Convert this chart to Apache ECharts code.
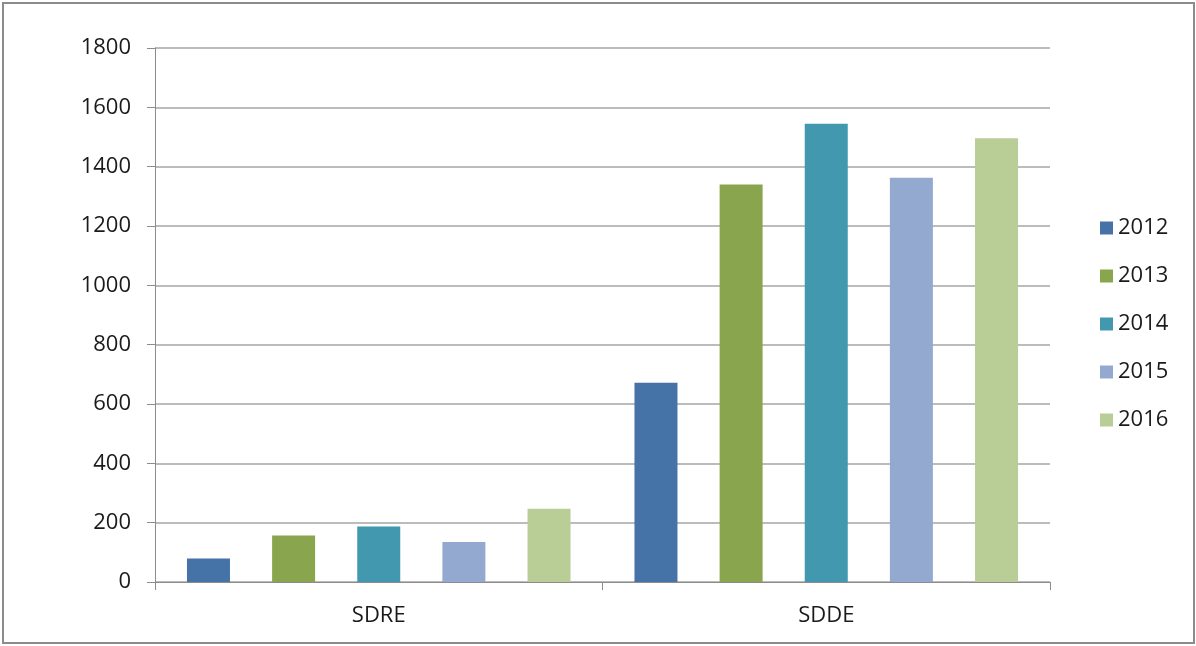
<!DOCTYPE html>
<html>
<head>
<meta charset="utf-8">
<script src="https://cdn.jsdelivr.net/npm/echarts@6/dist/echarts.min.js"></script>
<style>
  html, body { margin: 0; padding: 0; background: #ffffff; }
  #chart { width: 1196px; height: 646px; }
</style>
</head>
<body>
<div id="chart"></div>
<script>
// Categories and yearly values
const categories = ['SDRE', 'SDDE'];
const years = ['2012', '2013', '2014', '2015', '2016'];
const values2012 = [79, 672];
const values2013 = [157, 1340];
const values2014 = [187, 1545];
const values2015 = [135, 1363];
const values2016 = [247, 1496];
const yTicks = { min: 0, max: 1800, step: 200 };

const seriesValues = [values2012, values2013, values2014, values2015, values2016];
const palette = ['#4572A7', '#89A54E', '#4198AF', '#93A9CF', '#B9CD96'];

const FONT = 'Open Sans';
const TEXT = '#1a1a1a';

const chart = echarts.init(document.getElementById('chart'), null, { renderer: 'canvas' });

chart.setOption({
  animation: false,
  color: palette,
  textStyle: { fontFamily: FONT },
  graphic: [{
    type: 'rect',
    shape: { x: 3, y: 3, width: 1191, height: 640 },
    style: { fill: 'none', stroke: '#8c8c8c', lineWidth: 2 },
    silent: true
  }],
  grid: { left: 155, right: 146, top: 48, bottom: 64 },
  legend: {
    orient: 'vertical',
    left: 1095,
    top: 212,
    itemWidth: 13,
    itemHeight: 13,
    itemGap: 26,
    icon: 'rect',
    textStyle: { fontFamily: FONT, fontSize: 22, color: TEXT, lineHeight: 22, padding: [0, 0, 0, 0] },
    data: years
  },
  xAxis: {
    type: 'category',
    data: categories,
    axisLine: { lineStyle: { color: '#8c8c8c', width: 1 } },
    axisTick: { show: true, length: 8, lineStyle: { color: '#8c8c8c' } },
    axisLabel: { fontFamily: FONT, fontSize: 22, color: TEXT, margin: 23 }
  },
  yAxis: {
    type: 'value',
    min: yTicks.min,
    max: yTicks.max,
    interval: yTicks.step,
    axisLine: { show: true, lineStyle: { color: '#8c8c8c', width: 1 } },
    axisTick: { show: true, length: 8, lineStyle: { color: '#8c8c8c' } },
    axisLabel: {
      fontFamily: FONT, fontSize: 22, color: TEXT, margin: 24,
      formatter: (v) => String(v)
    },
    splitLine: { lineStyle: { color: '#a6a6a6', width: 1.5 } }
  },
  series: years.map((y, i) => ({
    name: y,
    type: 'bar',
    data: seriesValues[i],
    barWidth: 43,
    barGap: '98%',
    itemStyle: { color: palette[i] }
  }))
});
</script>
</body>
</html>
